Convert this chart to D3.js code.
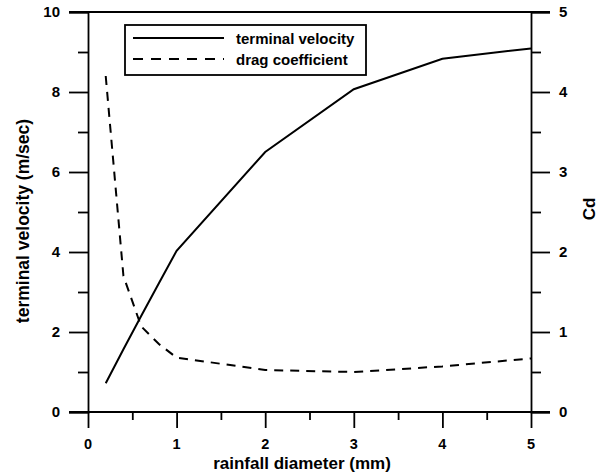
<!DOCTYPE html>
<html><head><meta charset="utf-8">
<script src="https://cdn.jsdelivr.net/npm/d3@7"></script>
<style>body{margin:0;background:#fff}svg{display:block}text{font-family:"Liberation Sans",Arial,sans-serif;font-weight:bold;fill:#000}</style>
</head><body><svg id="c" width="600" height="474"></svg>
<script>
const diameter = [0.2, 0.4, 0.6, 0.8, 1.0, 2, 3, 4, 5];
const velocity = [0.72, 1.57, 2.40, 3.22, 4.03, 6.5, 8.07, 8.83, 9.09];
const dragCoef = [4.2, 1.7, 1.07, 0.85, 0.68, 0.525, 0.50, 0.57, 0.67];
const xTicks = [0, 1, 2, 3, 4, 5];
const yLeftTicks = [0, 2, 4, 6, 8, 10];
const yRightTicks = [0, 1, 2, 3, 4, 5];
const seriesNames = ["terminal velocity", "drag coefficient"];

const svg = d3.select("#c");
const L = 88, R = 531, T = 12, B = 412;
const x = d3.scaleLinear().domain([0, 5]).range([L, R]);
const yL = d3.scaleLinear().domain([0, 10]).range([B, T]);
const yR = d3.scaleLinear().domain([0, 5]).range([B, T]);
const sw = 1.8;

// frame lines
svg.append("line").attr("x1", 69).attr("x2", 550).attr("y1", T).attr("y2", T).attr("stroke", "#000").attr("stroke-width", sw);
svg.append("line").attr("x1", 69).attr("x2", 550).attr("y1", B).attr("y2", B).attr("stroke", "#000").attr("stroke-width", sw);

// left axis
const gl = svg.append("g").attr("transform", `translate(${L},0)`)
  .call(d3.axisLeft(yL).tickValues(d3.range(0, 10.01, 1)).tickSize(19).tickFormat(""));
gl.select(".domain").attr("stroke-width", sw);
gl.selectAll(".tick line").attr("stroke-width", sw).attr("x2", d => (Math.round(d) % 2 === 0 ? -19 : -10));
svg.selectAll(".ylab").data(yLeftTicks).join("text").attr("class", "ylab")
  .attr("x", 60).attr("y", d => yL(d) + 5).attr("text-anchor", "end").attr("font-size", 15).text(d => d);

// right axis
const gr = svg.append("g").attr("transform", `translate(${R},0)`)
  .call(d3.axisRight(yR).tickValues(d3.range(0, 5.01, 0.5)).tickSize(19).tickFormat(""));
gr.select(".domain").attr("stroke-width", sw);
gr.selectAll(".tick line").attr("stroke-width", sw).attr("x2", d => (Math.abs(d - Math.round(d)) < 1e-6 ? 19 : 10));
svg.selectAll(".rlab").data(yRightTicks).join("text").attr("class", "rlab")
  .attr("x", 559).attr("y", d => yR(d) + 5).attr("text-anchor", "start").attr("font-size", 15).text(d => d);

// bottom axis
const gb = svg.append("g").attr("transform", `translate(0,${B})`)
  .call(d3.axisBottom(x).tickValues(d3.range(0, 5.01, 0.5)).tickSize(16).tickFormat(""));
gb.select(".domain").remove();
gb.selectAll(".tick line").attr("stroke-width", sw).attr("y2", d => (Math.abs(d - Math.round(d)) < 1e-6 ? 16 : 8));
svg.selectAll(".xlab").data(xTicks).join("text").attr("class", "xlab")
  .attr("x", d => x(d)).attr("y", 449).attr("text-anchor", "middle").attr("font-size", 14.5).text(d => d);

// titles
svg.append("text").attr("x", 302).attr("y", 469).attr("text-anchor", "middle").attr("font-size", 17).text("rainfall diameter (mm)");
svg.append("text").attr("transform", "translate(29,221) rotate(-90)").attr("text-anchor", "middle").attr("font-size", 17.5).text("terminal velocity (m/sec)");
svg.append("text").attr("transform", "translate(595,209) rotate(-90)").attr("text-anchor", "middle").attr("font-size", 17).text("Cd");

// data lines
const lineV = d3.line().x((d, i) => x(diameter[i])).y(d => yL(d));
const lineC = d3.line().x((d, i) => x(diameter[i])).y(d => yR(d));
svg.append("path").attr("d", lineV(velocity)).attr("fill", "none").attr("stroke", "#000").attr("stroke-width", 2);
svg.append("path").attr("d", lineC(dragCoef)).attr("fill", "none").attr("stroke", "#000").attr("stroke-width", 2).attr("stroke-dasharray", "9,7");

// legend
svg.append("rect").attr("x", 125).attr("y", 25).attr("width", 241).attr("height", 50).attr("fill", "#fff").attr("stroke", "#000").attr("stroke-width", 1.8);
const leg = [{ y: 38, dash: null }, { y: 59, dash: "10,8" }];
leg.forEach((l, i) => {
  svg.append("line").attr("x1", 133).attr("x2", 224).attr("y1", l.y).attr("y2", l.y).attr("stroke", "#000").attr("stroke-width", 2).attr("stroke-dasharray", l.dash);
  svg.append("text").attr("x", 236).attr("y", l.y + 6).attr("font-size", 15).text(seriesNames[i]);
});
</script></body></html>
